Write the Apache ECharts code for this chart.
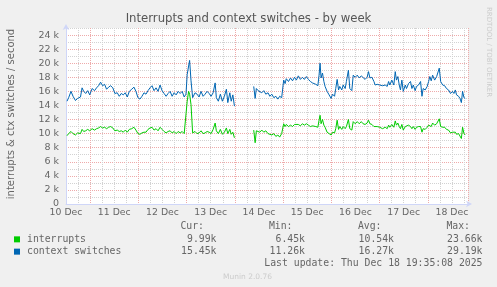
<!DOCTYPE html>
<html><head><meta charset="utf-8">
<script src="https://cdn.jsdelivr.net/npm/echarts@6/dist/echarts.min.js"></script>
<style>html,body{margin:0;padding:0;background:#f0f0f0}#c{width:497px;height:287px}</style>
</head><body><div id="c"></div>
<script>
// x = hours since the left edge of the week view (10 Dec), y = thousands per second
const dayLabels = ['10 Dec','11 Dec','12 Dec','13 Dec','14 Dec','15 Dec','16 Dec','17 Dec','18 Dec'];
const yTickValues = [0,2,4,6,8,10,12,14,16,18,20,22,24];

const hoursA = [0.5,1.3,2.5,3.5,4.7,5.8,7.2,8.0,8.8,9.8,
10.8,11.8,13.0,14.2,15.2,16.2,17.2,18.2,19.2,20.2,
21.2,22.2,23.3,24.3,25.5,26.5,27.5,28.5,29.5,30.5,
31.5,32.7,33.8,34.8,35.8,36.8,37.8,38.8,39.8,40.8,
41.8,42.8,43.8,44.8,45.8,46.8,47.8,48.8,49.8,50.8,
51.8,52.8,53.8,54.8,55.8,56.8,57.8,58.8,59.7,60.3,
61.0,61.5,62.2,63.0,64.2,65.2,66.2,67.2,68.2,69.2,
70.2,71.2,72.2,73.2,74.2,74.8,75.8,76.8,77.8,78.8,
79.8,80.5,81.5,82.2,83.0,83.8];
const interruptsA = [9.7,10.0,10.3,10.0,9.8,10.1,10.0,10.6,10.3,10.4,
10.6,10.4,10.7,10.5,10.7,10.8,11.0,10.8,10.9,10.7,
10.9,11.0,10.8,10.4,10.5,10.3,10.4,10.2,10.5,10.2,
10.6,10.7,10.9,10.5,10.0,9.9,10.1,10.2,10.2,10.6,
10.8,10.9,10.5,10.7,10.4,10.9,10.6,10.3,10.1,10.3,
10.4,10.1,10.3,10.0,10.3,10.1,10.3,10.0,10.2,14.6,
16.0,15.6,14.1,10.1,10.3,10.0,10.1,10.4,10.0,10.1,
10.3,10.2,10.0,10.6,11.5,10.4,10.0,10.6,9.9,10.2,
10.8,10.0,10.6,9.9,10.2,9.4];
const ctxSwitchesA = [14.6,15.1,16.0,15.3,14.7,15.0,15.2,16.5,16.0,15.7,
16.1,15.5,16.4,16.1,16.5,16.8,17.3,16.8,17.0,16.3,
16.6,16.8,16.5,15.7,15.8,15.3,15.7,15.5,15.8,15.2,
16.0,16.3,16.6,16.0,15.1,14.9,15.3,15.8,15.6,16.1,
16.5,16.8,16.1,16.5,16.0,16.9,16.1,15.7,15.3,15.7,
16.0,15.3,15.8,15.5,16.0,15.7,16.0,15.2,15.6,18.4,
19.6,20.4,17.5,15.1,15.8,15.6,15.2,16.0,15.3,15.6,
16.0,15.7,15.3,15.8,17.2,15.1,14.6,15.6,14.6,15.3,
16.3,14.4,15.8,14.6,15.5,13.9];

const gapHour = 88;

const hoursB = [93.4,94.1,94.7,95.6,96.4,97.4,98.4,99.4,100.5,101.4,
102.4,103.4,104.4,105.4,106.3,107.3,108.3,109.0,109.6,110.7,
111.7,112.7,113.7,114.6,115.6,116.6,117.6,118.6,119.6,120.6,
121.6,122.6,124.3,125.3,125.9,126.4,126.9,127.6,128.3,128.9,
129.9,130.9,131.9,132.6,133.6,134.2,134.9,135.6,136.2,137.2,
137.9,138.9,139.5,140.5,141.2,142.2,142.9,143.9,144.9,145.9,
146.9,147.8,148.8,149.8,150.5,151.2,152.2,153.2,153.8,154.8,
156.1,157.5,158.8,159.8,160.5,161.1,162.1,163.1,163.8,164.4,
165.1,165.8,166.4,167.1,167.8,168.8,169.4,170.4,171.4,172.1,
172.8,173.7,174.4,175.4,176.4,177.1,177.7,178.7,179.7,180.4,
181.0,181.7,182.4,183.4,184.4,185.0,185.7,186.4,187.4,188.4,
189.3,190.3,191.3,192.3,193.0,193.7,194.3,195.3,196.0,196.7,
197.3,198.0,198.6];
const interruptsB = [10.5,8.7,10.4,10.6,10.2,10.5,10.2,10.4,10.0,10.1,
9.8,10.0,9.6,9.8,9.5,10.0,11.4,11.0,11.3,11.0,
11.2,11.0,11.3,11.1,11.3,11.1,11.4,11.2,11.4,11.2,
11.0,11.1,11.0,10.9,11.9,12.6,11.4,12.0,11.2,10.9,
10.2,10.0,9.8,10.2,10.1,10.7,11.9,10.6,11.0,10.6,
11.0,10.7,11.0,12.0,10.7,10.5,11.7,11.4,11.7,11.4,
11.7,11.4,11.3,11.5,11.9,11.4,11.3,11.0,10.9,11.0,
10.9,10.7,10.9,10.7,11.2,10.9,11.3,10.9,11.8,11.2,
11.5,11.0,10.7,11.3,10.5,11.0,10.9,11.2,11.0,10.7,
11.0,10.6,10.9,11.0,11.0,10.2,10.7,10.6,10.9,11.2,
11.4,11.0,11.5,11.2,11.4,11.5,12.1,11.0,10.9,10.9,
10.6,10.5,10.1,10.2,10.0,10.2,9.9,10.0,9.8,9.3,
10.9,10.0,9.8];
const ctxSwitchesB = [16.7,15.0,16.4,16.1,16.3,15.8,16.1,15.6,15.8,15.3,
15.6,15.1,15.3,14.9,15.3,15.1,17.6,17.1,17.8,17.4,
17.9,17.5,18.0,17.6,18.2,17.7,18.0,17.7,18.1,17.7,
17.4,17.2,17.0,16.8,18.3,20.0,17.9,18.6,17.4,16.7,
16.0,15.5,15.0,15.6,15.3,16.4,17.7,16.2,16.7,16.2,
16.9,16.4,17.4,19.0,16.4,16.1,18.3,18.0,18.3,17.9,
18.2,18.0,17.7,18.0,18.8,17.9,18.0,17.4,16.9,17.0,
16.9,16.8,16.9,16.7,17.4,16.9,17.6,16.9,18.8,17.6,
18.1,16.9,16.2,17.6,16.0,16.9,16.4,17.1,17.4,16.4,
16.9,16.1,16.7,16.9,17.4,15.3,16.4,16.2,16.7,17.4,
18.1,17.5,18.3,17.6,18.1,18.3,19.3,17.4,16.9,16.8,
16.4,16.2,15.7,16.0,15.7,16.2,15.5,15.3,15.0,14.4,
16.0,15.1,15.0];

const seriesNames = ['interrupts', 'context switches'];
const seriesColors = ['#00cc00', '#0066b3'];
const statHeaders = ['Cur:', 'Min:', 'Avg:', 'Max:'];
const statsInterrupts = ['9.99k', '6.45k', '10.54k', '23.66k'];
const statsCtx = ['15.45k', '11.26k', '16.27k', '29.19k'];
const lastUpdate = 'Last update: Thu Dec 18 19:35:08 2025';

function build(hA, vA, hB, vB) {
  const d = hA.map((h, i) => [h, vA[i]]);
  d.push([gapHour, null]);
  return d.concat(hB.map((h, i) => [h, vB[i]]));
}

const chart = echarts.init(document.getElementById('c'), null, {renderer: 'canvas'});
const txt = '#666';
const grey = '#d2d2d2', red = '#eeaaaa';
const mono = 'DejaVu Sans Mono';

const headerEnds = [204, 292.5, 381.5, 470];
const valueEnds = [216.5, 305, 394, 482.5];
const graphics = [];
graphics.push({type:'text', x: 11, y: 114, rotation: Math.PI/2,
  style:{text:'interrupts & ctx switches / second', fill: txt, font:'10px "DejaVu Sans"', textAlign:'center', textVerticalAlign:'middle'}});
graphics.push({type:'text', x: 488.5, y: 52, rotation: -Math.PI/2,
  style:{text:'RRDTOOL / TOBI OETIKER', fill:'#cccccc', font:'7px "DejaVu Sans"', textAlign:'center', textVerticalAlign:'middle'}});
statHeaders.forEach((h, i) => graphics.push({type:'text', x: headerEnds[i], y: 226.7,
  style:{text:h, fill: txt, font:'9.8px "'+mono+'"', textAlign:'right', textVerticalAlign:'middle'}}));
statsInterrupts.forEach((s, i) => graphics.push({type:'text', x: valueEnds[i], y: 239.3,
  style:{text:s, fill: txt, font:'9.8px "'+mono+'"', textAlign:'right', textVerticalAlign:'middle'}}));
statsCtx.forEach((s, i) => graphics.push({type:'text', x: valueEnds[i], y: 251.6,
  style:{text:s, fill: txt, font:'9.8px "'+mono+'"', textAlign:'right', textVerticalAlign:'middle'}}));
graphics.push({type:'text', x: 482.5, y: 263.5,
  style:{text:lastUpdate, fill: txt, font:'9.8px "'+mono+'"', textAlign:'right', textVerticalAlign:'middle'}});
graphics.push({type:'text', x: 247.5, y: 276.7,
  style:{text:'Munin 2.0.76', fill:'#cccccc', font:'7.5px "DejaVu Sans"', textAlign:'center', textVerticalAlign:'middle'}});

chart.setOption({
  animation: false,
  backgroundColor: '#f0f0f0',
  title: {text:'Interrupts and context switches - by week', left:'center', top: 13, padding: 0,
    textStyle:{fontSize: 11.7, fontWeight:'normal', color:'#555', fontFamily:'DejaVu Sans'}},
  legend: {orient:'vertical', left: 14, top: 233.2, padding: 0, itemGap: 0, itemWidth: 6, itemHeight: 6,
    icon:'rect', selectedMode: false, data: seriesNames,
    textStyle:{fontFamily: mono, fontSize: 9.8, color: txt, lineHeight: 12.3, padding:[0,0,0,2]}},
  grid: {left: 66, right: 29, top: 28, bottom: 83, show: true, backgroundColor:'#ffffff', borderWidth: 0},
  xAxis: {type:'value', min: 0, max: 200, interval: 6,
    axisLine:{show:true, lineStyle:{color:'#cfd6f8', width:1}, symbol:['none','arrow'], symbolSize:[5,6], symbolOffset:[0,4]},
    axisTick:{show:false},
    axisLabel:{color: txt, fontSize: 9.3, fontFamily:'DejaVu Sans', margin: 4, showMinLabel:true, hideOverlap:false,
      formatter: v => (v % 24 === 0 && dayLabels[v/24]) ? dayLabels[v/24] : ''},
    splitLine:{show:true, lineStyle:{color:[grey, grey, red, grey], type:[1,1], width:1}}
  },
  yAxis: {type:'value', min: 0, max: 25, interval: 1,
    axisLine:{show:true, lineStyle:{color:'#cfd6f8', width:1}, symbol:['none','arrow'], symbolSize:[5,6], symbolOffset:[0,4]},
    axisTick:{show:false},
    axisLabel:{color: txt, fontSize: 9.5, fontFamily:'DejaVu Sans', margin: 7,
      formatter: v => yTickValues.indexOf(v) >= 0 ? (v === 0 ? '0' : v + ' k') : ''},
    splitLine:{show:true, lineStyle:{color:[red, grey], type:[1,1], width:1}}
  },
  series: [
    {name: seriesNames[0], type:'line', color: seriesColors[0], showSymbol:false, connectNulls:false,
      lineStyle:{width:1}, data: build(hoursA, interruptsA, hoursB, interruptsB)},
    {name: seriesNames[1], type:'line', color: seriesColors[1], showSymbol:false, connectNulls:false,
      lineStyle:{width:1}, data: build(hoursA, ctxSwitchesA, hoursB, ctxSwitchesB)}
  ],
  graphic: graphics
});
</script></body></html>
